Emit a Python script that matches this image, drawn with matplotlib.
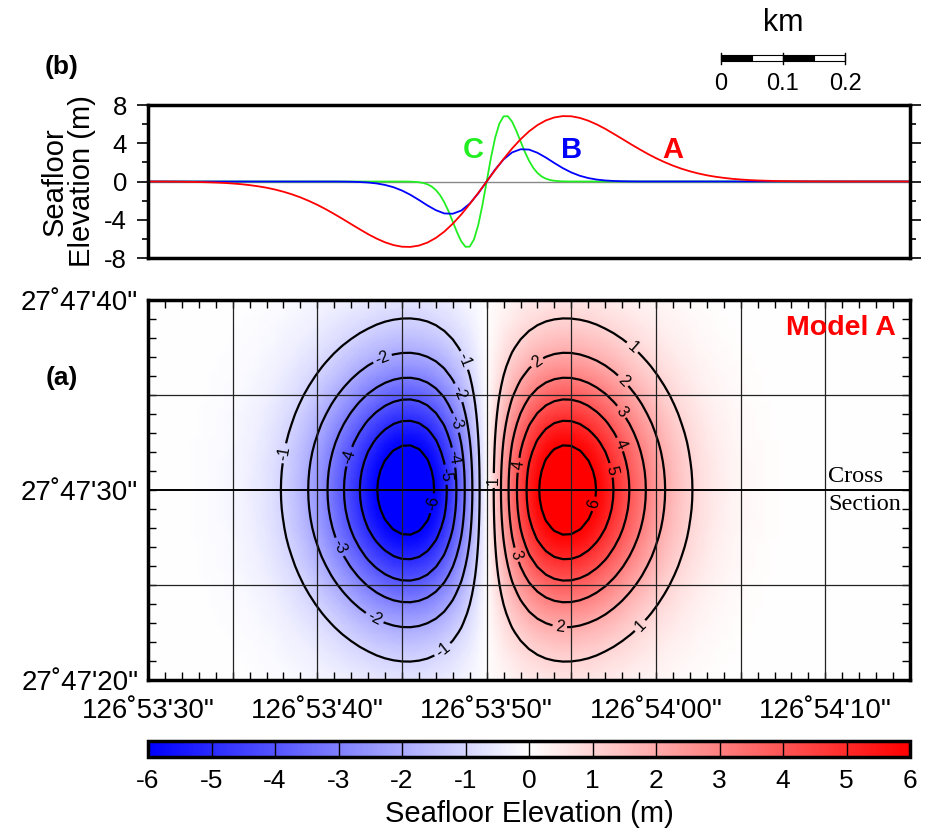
import numpy as np
import matplotlib.pyplot as plt
from matplotlib.ticker import MultipleLocator
from matplotlib.patches import Rectangle

plt.rcParams['font.family'] = ['Liberation Sans', 'DejaVu Sans']
plt.rcParams['axes.unicode_minus'] = False

# x: arc-seconds east of 126°53'30", y: arc-seconds north of 27°47'00"
x_a = np.arange(0, 45.25, 0.5)
prof_a = [
    -0.005, -0.008, -0.012, -0.018, -0.026, -0.04, -0.055, -0.08, -0.11, -0.15,
    -0.21, -0.28, -0.38, -0.50, -0.65, -0.84, -1.07, -1.34, -1.66, -2.03,
    -2.44, -2.90, -3.40, -3.92, -4.46, -4.99, -5.51, -5.97, -6.36, -6.65,
    -6.82, -6.84, -6.70, -6.39, -5.90, -5.24, -4.41, -3.45, -2.36, -1.20,
    0.0, 1.20, 2.36, 3.45, 4.41, 5.24, 5.90, 6.39, 6.70, 6.84,
    6.82, 6.65, 6.36, 5.97, 5.51, 4.99, 4.46, 3.92, 3.40, 2.90,
    2.44, 2.03, 1.66, 1.34, 1.07, 0.84, 0.65, 0.50, 0.38, 0.28,
    0.21, 0.15, 0.11, 0.08, 0.055, 0.04, 0.026, 0.018, 0.012, 0.008,
    0.005, 0.003, 0.002, 0.001, 0.0, 0.0, 0.0, 0.0, 0.0, 0.0, 0.0,
]

x_b = np.r_[0, np.arange(11, 29.25, 0.5), 45]
prof_b = [
    0.0,
    -0.005, -0.012, -0.026, -0.054, -0.108, -0.203, -0.36, -0.60, -0.945,
    -1.395, -1.93, -2.50, -3.00, -3.34, -3.37, -3.04, -2.31, -1.25,
    0.0,
    1.25, 2.31, 3.04, 3.37, 3.34, 3.00, 2.50, 1.93, 1.395,
    0.945, 0.60, 0.36, 0.203, 0.108, 0.054, 0.026, 0.012, 0.005,
    0.0,
]

x_c = np.r_[0, np.arange(15, 25.125, 0.25), 45]
prof_c = [
    0.0,
    -0.003, -0.007, -0.016, -0.036, -0.077, -0.153, -0.291, -0.523, -0.89, -1.43,
    -2.18, -3.12, -4.21, -5.31, -6.26, -6.83, -6.81, -6.06, -4.57, -2.46,
    0.0,
    2.46, 4.57, 6.06, 6.81, 6.83, 6.26, 5.31, 4.21, 3.12,
    2.18, 1.43, 0.89, 0.523, 0.291, 0.153, 0.077, 0.036, 0.016, 0.007, 0.003,
    0.0,
]

# north-south decay of model A, read along the peak column
y_map = np.arange(20, 40.25, 0.5)
env_y = [
    0.094, 0.119, 0.148, 0.181, 0.220, 0.265, 0.314, 0.369, 0.427, 0.489,
    0.554, 0.620, 0.685, 0.749, 0.808, 0.863, 0.910, 0.948, 0.977, 0.994,
    1.0,
    0.994, 0.977, 0.948, 0.910, 0.863, 0.808, 0.749, 0.685, 0.620, 0.554,
    0.489, 0.427, 0.369, 0.314, 0.265, 0.220, 0.181, 0.148, 0.119, 0.094,
]

contour_levels = [-6, -5, -4, -3, -2, -1, 1, 2, 3, 4, 5, 6]
label_pos = [
    (13.9, 36.8), (18.6, 36.8), (18.3, 35.1), (18.1, 33.5), (18.0, 31.7),
    (17.5, 30.8), (16.8, 29.3), (8.3, 31.9), (12.1, 31.7), (11.3, 27.0),
    (13.4, 23.3), (17.4, 21.6),
    (20.4, 30.5), (28.5, 37.4), (28.9, 23.0), (23.0, 36.7), (28.0, 35.7),
    (24.3, 22.7), (27.8, 34.0), (21.8, 26.6), (27.6, 32.3), (21.9, 31.3),
    (27.2, 31.0), (26.2, 29.3),
]

lon_ticks = [0, 10, 20, 30, 40]
lon_labels = ['126˚53\'30"', '126˚53\'40"', '126˚53\'50"', '126˚54\'00"', '126˚54\'10"']
lat_ticks = [20, 30, 40]
lat_labels = ['27˚47\'20"', '27˚47\'30"', '27˚47\'40"']
elev_ticks = [-8, -4, 0, 4, 8]
cbar_ticks = list(range(-6, 7))
scale_km = [0, 0.1, 0.2]

green = '#22ee22'
W, H = 930, 834


def box(l, t, r, b):
    return [l / W, 1 - b / H, (r - l) / W, (b - t) / H]


fig = plt.figure(figsize=(9.3, 8.34), dpi=100)

# ---- (b) cross-section profiles
axb = fig.add_axes(box(148, 105, 910, 258))
axb.axhline(0, color='#888888', lw=1, zorder=1)
axb.plot(x_c, prof_c, color=green, lw=1.3)
axb.plot(x_b, prof_b, color='#0000ff', lw=1.3)
axb.plot(x_a, prof_a, color='#ff0000', lw=1.3)
axb.set_xlim(0, 45)
axb.set_ylim(-8, 8)
axb.set_xticks([])
axb.set_yticks(elev_ticks)
axb.yaxis.set_minor_locator(MultipleLocator(2))
axb.tick_params(axis='y', which='both', direction='out', left=True, right=True,
                labelsize=18.5, width=1.2, pad=7)
axb.tick_params(axis='y', which='major', length=8)
axb.tick_params(axis='y', which='minor', length=4)
for s in axb.spines.values():
    s.set_linewidth(2.5)
axb.set_ylabel('Seafloor\nElevation (m)', fontsize=21, linespacing=0.95, labelpad=6)
axb.text(19.2, 3.3, 'C', color=green, fontsize=21, fontweight='bold', ha='center', va='center')
axb.text(25.0, 3.3, 'B', color='#0000ff', fontsize=21, fontweight='bold', ha='center', va='center')
axb.text(31.0, 3.3, 'A', color='#ff0000', fontsize=21, fontweight='bold', ha='center', va='center')

# ---- (a) map of model A
axm = fig.add_axes(box(148, 300, 910, 680))
field = np.outer(env_y, prof_a)
mesh = axm.pcolormesh(x_a, y_map, field, shading='gouraud', cmap='bwr', vmin=-6, vmax=6)
cs = axm.contour(x_a, y_map, field, levels=contour_levels, colors='k',
                 linewidths=1.6, linestyles='solid')
axm.clabel(cs, contour_levels, fmt='%d', fontsize=11.5, inline=True,
           inline_spacing=3, manual=label_pos)
for v in range(5, 45, 5):
    axm.axvline(v, color='#222222', lw=0.9)
for v in (25, 35):
    axm.axhline(v, color='#222222', lw=0.9)
axm.axhline(30, color='k', lw=1.4)
axm.set_xlim(0, 45)
axm.set_ylim(20, 40)
axm.set_xticks(lon_ticks, lon_labels)
axm.set_yticks(lat_ticks, lat_labels)
axm.xaxis.set_minor_locator(MultipleLocator(1))
axm.yaxis.set_minor_locator(MultipleLocator(1))
axm.tick_params(which='both', direction='in', top=True, right=True, length=6,
                width=1, labelsize=20)
axm.tick_params(axis='x', which='both', pad=13)
axm.tick_params(axis='y', which='both', pad=7)
for s in axm.spines.values():
    s.set_linewidth(2.5)
    s.set_zorder(5)

# ---- colour bar
cax = fig.add_axes(box(148, 741, 910, 757))
cb = fig.colorbar(mesh, cax=cax, orientation='horizontal', ticks=cbar_ticks)
cb.outline.set_linewidth(2.5)
cax.tick_params(length=0, labelsize=19, pad=9)
for v in cbar_ticks[1:-1]:
    cax.axvline(v, color='k', lw=1)
cb.set_label('Seafloor Elevation (m)', fontsize=21, labelpad=5)

# ---- annotations
fig.text(62 / W, 1 - 67 / H, '(b)', fontsize=19, fontweight='bold', ha='center', va='center')
fig.text(62 / W, 1 - 378 / H, '(a)', fontsize=19, fontweight='bold', ha='center', va='center')
fig.text(841 / W, 1 - 328 / H, 'Model A', color='#ff0000', fontsize=20.5,
         fontweight='bold', ha='center', va='center')
fig.text(828 / W, 1 - 476 / H, 'Cross', family='Liberation Serif', fontsize=17.5,
         ha='left', va='center')
fig.text(828 / W, 1 - 505 / H, 'Section', family='Liberation Serif', fontsize=17.5,
         ha='left', va='center')

# scale bar (km)
ov = fig.add_axes([0, 0, 1, 1])
ov.set_xlim(0, W)
ov.set_ylim(H, 0)
ov.axis('off')
x0, px_per_km = 720.7, 124.3 / 0.2
for i in range(4):
    ov.add_patch(Rectangle((x0 + i * 0.05 * px_per_km, 55), 0.05 * px_per_km, 6,
                           facecolor='k' if i % 2 == 0 else 'w',
                           edgecolor='k', lw=0.8))
for km in scale_km:
    xp = x0 + km * px_per_km
    ov.plot([xp, xp], [53, 64], color='k', lw=1)
    ov.text(xp, 84, f'{km:g}', fontsize=17, ha='center', va='center')
ov.text(x0 + 0.1 * px_per_km, 23, 'km', fontsize=22, ha='center', va='center')

fig.savefig('out.png', dpi=100)
